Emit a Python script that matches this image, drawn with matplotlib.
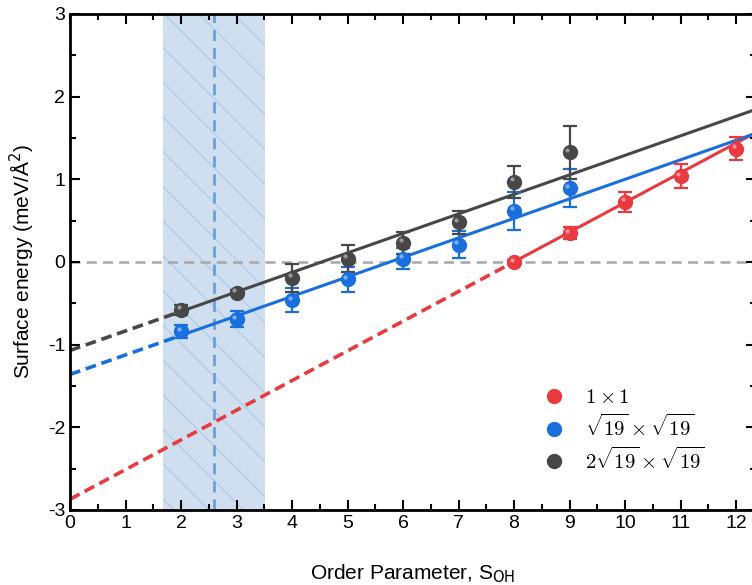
import matplotlib
matplotlib.use("Agg")
import matplotlib.pyplot as plt
from matplotlib.lines import Line2D
from matplotlib.patches import Rectangle
from matplotlib.transforms import offset_copy
import numpy as np

plt.rcParams['font.family'] = ['Liberation Sans', 'DejaVu Sans']
plt.rcParams['mathtext.fontset'] = 'cm'
plt.rcParams['axes.unicode_minus'] = False

# data
x_red = [8, 9, 10, 11, 12]
y_red = [0.0, 0.35, 0.73, 1.04, 1.37]
e_red = [0.02, 0.07, 0.12, 0.15, 0.14]

x_blue = [2, 3, 4, 5, 6, 7, 8, 9]
y_blue = [-0.84, -0.69, -0.46, -0.21, 0.04, 0.21, 0.62, 0.89]
e_blue = [0.08, 0.10, 0.145, 0.15, 0.13, 0.16, 0.23, 0.23]

x_black = [2, 3, 4, 5, 6, 7, 8, 9]
y_black = [-0.58, -0.37, -0.19, 0.04, 0.23, 0.48, 0.97, 1.33]
e_black = [0.06, 0.03, 0.17, 0.16, 0.13, 0.14, 0.19, 0.32]

# linear fits (slope, intercept) and where the solid part starts
fit_red = (0.359, -2.87, 8)
fit_blue = (0.236, -1.36, 2)
fit_black = (0.236, -1.07, 2)

labels = [r'$1\times1$', r'$\sqrt{19}\times\sqrt{19}$', r'$2\sqrt{19}\times\sqrt{19}$']

band = (1.68, 3.51)
band_center = 2.6

c_red = '#e83a3f'
c_blue = '#1a6fdf'
c_black = '#474747'

fig = plt.figure(figsize=(7.52, 5.85), dpi=100)
ax = fig.add_axes([70/752, 75/585, 686/752, 496/585])
xmax = 12.36

# shaded region with sparse hatch
rect = Rectangle((band[0], -3), band[1]-band[0], 6, facecolor='#cfdff0', edgecolor='none', zorder=0)
ax.add_patch(rect)
for c in np.arange(-3, 6, 0.42):
    xs = np.array([band[0], band[1]])
    ln, = ax.plot(xs, c - 0.671*xs, color='#a9c5e6', lw=0.7, zorder=0.5)
    ln.set_clip_path(rect)
ax.axvline(band_center, color='#6b9fe0', lw=2, ls=(0, (4, 2.5)), zorder=1)

ax.axhline(0, color='#a6a6a6', lw=1.8, ls=(0, (4, 2.5)), zorder=1)

hl = offset_copy(ax.transData, fig=fig, x=-2.5, y=2.5, units='dots')

for xs, ys, es, fit, col in [(x_red, y_red, e_red, fit_red, c_red),
                             (x_blue, y_blue, e_blue, fit_blue, c_blue),
                             (x_black, y_black, e_black, fit_black, c_black)]:
    k, b, x0 = fit
    xd = np.array([0, x0])
    xs_line = np.array([x0, xmax])
    ax.plot(xd, k*xd + b, color=col, lw=2.6, ls=(0, (3, 1.6)), zorder=2)
    ax.plot(xs_line, k*xs_line + b, color=col, lw=2.2, zorder=2)
    ax.errorbar(xs, ys, yerr=es, fmt='o', color=col, ms=10, capsize=5, elinewidth=1.6,
                capthick=1.6, zorder=3)
    ax.plot(xs, ys, 'o', color='white', ms=3, alpha=0.45, mec='none', transform=hl, zorder=4)

ax.set_xlim(0, xmax)
ax.set_ylim(-3, 3)
ax.set_xticks(np.arange(0, 13, 1))
ax.set_xticks(np.arange(0.5, 12.5, 1), minor=True)
ax.set_yticks(np.arange(-3, 4, 1))
ax.set_yticks(np.arange(-2.5, 3, 1), minor=True)
ax.tick_params(which='both', direction='in', top=True, right=True, labelsize=14, width=1.5)
ax.tick_params(which='major', length=7)
ax.tick_params(which='minor', length=4)
for s in ax.spines.values():
    s.set_linewidth(2)

ax.set_xlabel('Order Parameter, S$_{\\mathrm{OH}}$', fontsize=15, labelpad=22)
ax.set_ylabel('Surface energy (meV/Å$^2$)', fontsize=15, labelpad=8)
ax.xaxis.label.set_math_fontfamily('dejavusans')
ax.yaxis.label.set_math_fontfamily('dejavusans')

handles = [Line2D([], [], marker='o', ls='none', color=c, ms=10) for c in [c_red, c_blue, c_black]]
ax.legend(handles, labels, loc='upper left', bbox_to_anchor=(0.663, 0.283), frameon=False,
          fontsize=15, handlelength=1, handletextpad=1.0, labelspacing=0.3)

fig.savefig('out.png', dpi=100)
